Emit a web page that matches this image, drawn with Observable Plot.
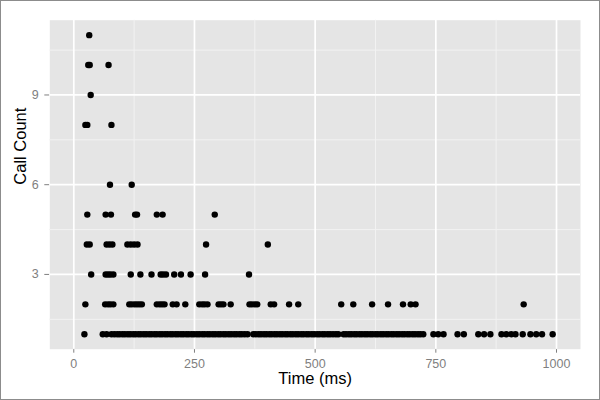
<!DOCTYPE html>
<html>
<head>
<meta charset="utf-8">
<script src="https://cdn.jsdelivr.net/npm/d3@7"></script>
<script src="https://cdn.jsdelivr.net/npm/@observablehq/plot@0.6"></script>
<style>
  body { margin: 0; background: white; }
  #chart svg { display: block; outline: 1px solid #8c8c8c; outline-offset: -1px; }
</style>
</head>
<body>
<div id="chart"></div>
<script>
// response times (ms) grouped by call count
const calls1 = [22, 60, 68, 78, 84, 90, 95, 101, 106, 112, 117, 123, 128, 134, 139, 145, 150, 156, 161, 167,
  172, 178, 183, 189, 194, 200, 205, 211, 216, 222, 227, 233, 238, 244, 249, 255, 260, 266, 271, 277,
  282, 288, 293, 299, 304, 310, 315, 321, 326, 332, 337, 343, 348, 354, 360, 372, 377, 383, 388, 394,
  399, 405, 410, 416, 421, 427, 432, 438, 443, 449, 454, 460, 465, 471, 476, 482, 487, 493, 498, 504,
  509, 515, 520, 526, 531, 537, 543, 548, 559, 564, 570, 575, 581, 586, 592, 597, 603, 608, 614, 619,
  625, 630, 636, 641, 647, 652, 658, 663, 669, 674, 680, 685, 691, 696, 702, 707, 713, 718, 724,
  745, 755, 766, 795, 808, 838, 850, 863, 886, 896, 906, 915, 930, 946, 958, 970, 992]
const calls2 = [24, 65, 71, 76, 82, 115, 120, 126, 131, 136, 141, 172, 178, 183, 188, 205, 213, 231,
  260, 266, 271, 277, 300, 305, 310, 325, 364, 369, 375, 380, 408, 415, 446, 465, 554, 579, 618, 651,
  682, 698, 708, 932]
const calls3 = [36, 66, 71, 76, 82, 118, 138, 161, 180, 185, 191, 208, 222, 242, 272, 363]
const calls4 = [27, 33, 68, 74, 80, 111, 118, 125, 132, 274, 402]
const calls5 = [28, 66, 77, 127, 131, 172, 184, 292]
const calls6 = [75, 120]
const calls8 = [24, 28, 78]
const calls9 = [35]
const calls10 = [30, 33, 72]
const calls11 = [32]

const xTicks = [0, 250, 500, 750, 1000]
const xMinor = [125, 375, 625, 875]
const yTicks = [3, 6, 9]
const yMinor = [1.5, 4.5, 7.5, 10.5]

const groups = [[1, calls1], [2, calls2], [3, calls3], [4, calls4], [5, calls5],
  [6, calls6], [8, calls8], [9, calls9], [10, calls10], [11, calls11]]
const points = groups.flatMap(([count, times]) => times.map(t => ({time: t, count: count})))

let chart = Plot.plot({
  width: 600,
  height: 400,
  marginLeft: 49.3,
  marginTop: 19.7,
  marginRight: 20,
  marginBottom: 51.3,
  x: {
    domain: [-49.7, 1049.7],
    ticks: xTicks,
    tickFormat: d3.format("d"),
    tickSize: 4,
    tickPadding: 6,
    label: null,
  },
  y: {
    domain: [0.5, 11.5],
    ticks: yTicks,
    tickSize: 5,
    tickPadding: 6,
    label: null,
  },
  style: {
    fontFamily: '"Liberation Sans", Arial, sans-serif',
    fontSize: '12.5px',
    color: '#7f7f7f',
    background: 'white',
  },
  marks: [
    Plot.frame({fill: '#e5e5e5', stroke: 'none'}),
    Plot.ruleX(xMinor, {stroke: '#f2f2f2', strokeWidth: 1}),
    Plot.ruleY(yMinor, {stroke: '#f2f2f2', strokeWidth: 1}),
    Plot.ruleX(xTicks, {stroke: 'white', strokeWidth: 1.7}),
    Plot.ruleY(yTicks, {stroke: 'white', strokeWidth: 1.7}),
    Plot.dot(points, {x: 'time', y: 'count', r: 3.2, fill: 'black', stroke: 'none'}),
    Plot.text(['Time (ms)'], {frameAnchor: 'bottom', dy: 35, fontSize: 16.5, fill: 'black'}),
    Plot.text(['Call Count'], {frameAnchor: 'left', dx: -29, rotate: -90, fontSize: 16.5, fill: 'black'}),
  ],
})

d3.select('#chart').append(() => chart)
</script>
</body>
</html>
